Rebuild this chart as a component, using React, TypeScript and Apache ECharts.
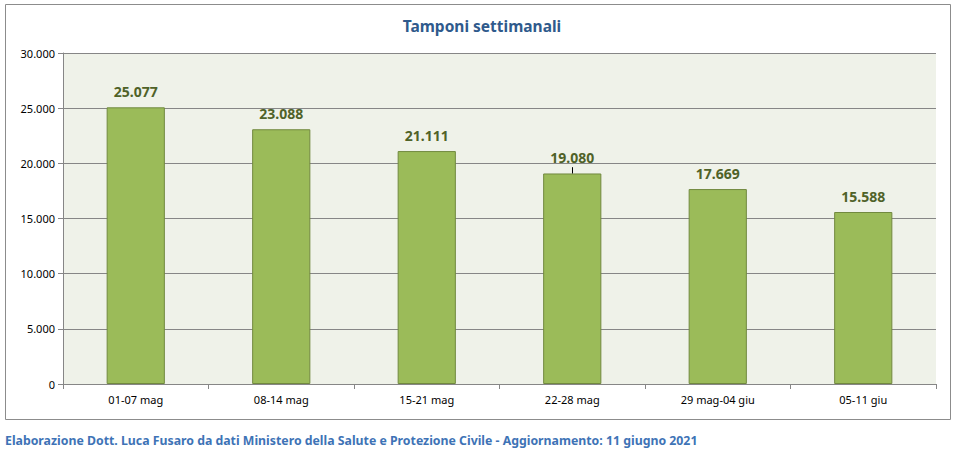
import React, { useEffect, useRef } from "react";
import * as echarts from "echarts";

const categories = ["01-07 mag", "08-14 mag", "15-21 mag", "22-28 mag", "29 mag-04 giu", "05-11 giu"];
const tamponi = [25077, 23088, 21111, 19080, 17669, 15588];
const stray = { index: 3, from: 19080, to: 19650 };
const titleText = "Tamponi settimanali";
const footerText =
  "Elaborazione Dott. Luca Fusaro da dati Ministero della Salute e Protezione Civile - Aggiornamento: 11 giugno 2021";

const fmt = (v: number) => (v === 0 ? "0" : v.toString().replace(/\B(?=(\d{3})+(?!\d))/g, "."));

export default function App() {
  const ref = useRef<HTMLDivElement>(null);
  useEffect(() => {
    document.body.style.margin = "0";
    const chart = echarts.init(ref.current!, null, { renderer: "svg" });
    const font = "'Noto Sans', 'DejaVu Sans', sans-serif";
    chart.setOption({
      animation: false,
      backgroundColor: "#ffffff",
      title: {
        text: titleText,
        left: 477,
        textAlign: "center",
        top: 13,
        textStyle: { color: "#2f5a8c", fontSize: 15.5, fontWeight: "bold", fontFamily: font },
      },
      graphic: [
        {
          type: "rect",
          shape: { x: 5.5, y: 4.5, width: 945, height: 415 },
          style: { fill: "none", stroke: "#8c8c8c", lineWidth: 1 },
          silent: true,
        },
        {
          type: "text",
          left: 5,
          top: 434,
          style: { text: footerText, fill: "#3e73b6", font: `bold 12.3px ${font}` },
        },
      ],
      grid: { left: 63, right: 21, top: 53, bottom: 71, show: true, backgroundColor: "#eff2e9", borderWidth: 0 },
      xAxis: {
        type: "category",
        data: categories,
        axisLine: { lineStyle: { color: "#868686" } },
        axisTick: { show: true, alignWithLabel: false, length: 5, lineStyle: { color: "#868686" } },
        axisLabel: { color: "#000", fontSize: 11, fontFamily: font, margin: 10 },
      },
      yAxis: {
        type: "value",
        min: 0,
        max: 30000,
        interval: 5000,
        axisLine: { show: true, lineStyle: { color: "#868686" } },
        axisTick: { show: true, length: 5, lineStyle: { color: "#868686" } },
        axisLabel: { color: "#000", fontSize: 11, fontFamily: font, margin: 8, formatter: (v: number) => fmt(v) },
        splitLine: { lineStyle: { color: "#868686" } },
      },
      series: [
        {
          type: "bar",
          data: tamponi,
          barWidth: "40%",
          itemStyle: { color: "#9bbb59", borderColor: "#71893f", borderWidth: 1 },
          label: {
            show: true,
            position: "top",
            distance: 9,
            color: "#4f6228",
            fontSize: 14,
            fontWeight: "bold",
            fontFamily: font,
            formatter: (p: any) => fmt(p.value),
          },
          markLine: {
            silent: true,
            symbol: "none",
            label: { show: false },
            lineStyle: { color: "#000", width: 1, type: "solid" },
            data: [
              [
                { coord: [stray.index, stray.from] },
                { coord: [stray.index, stray.to] },
              ],
            ],
          },
        },
      ],
    });
    return () => chart.dispose();
  }, []);
  return <div ref={ref} style={{ width: 957, height: 455 }} />;
}
